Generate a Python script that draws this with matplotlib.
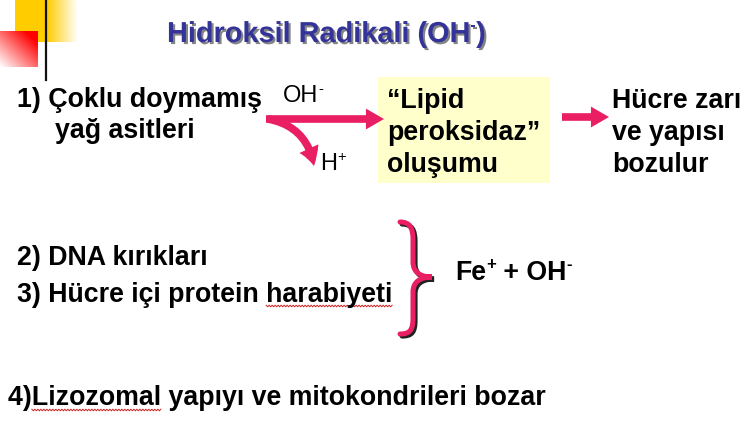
import numpy as np
import matplotlib
matplotlib.use('Agg')
import matplotlib.pyplot as plt
import matplotlib.patheffects as pe
from matplotlib.patches import FancyArrowPatch, Rectangle, PathPatch
from matplotlib.path import Path
from matplotlib import transforms

plt.rcParams['font.family'] = ['Liberation Sans', 'DejaVu Sans']

# slide text, pieces marked True are superscripts
title = [('Hidroksil Radikali (OH', False), ('-', True), (')', False)]
item1 = ['1) Çoklu doymamış', 'yağ asitleri']
reagent_in = [('OH', False), ('-', True)]
reagent_out = [('H', False), ('+', True)]
box_lines = ['“Lipid', 'peroksidaz”', 'oluşumu']
result_lines = ['Hücre zarı', 've yapısı', 'bozulur']
items23 = ['2) DNA kırıkları', '3) Hücre içi protein harabiyeti']
cause = [('Fe', False), ('+', True), (' + OH', False), ('-', True)]
item4 = '4)Lizozomal yapıyı ve mitokondrileri bozar'
misspelled = ['harabiyeti', 'Lizozomal']

PINK = '#E91E63'
NAVY = '#333399'
FS = 19.3

fig = plt.figure(figsize=(7.5, 4.46), dpi=100)
ax = fig.add_axes([0, 0, 1, 1])
ax.set_xlim(0, 750)
ax.set_ylim(446, 0)
ax.axis('off')
rend = fig.canvas.get_renderer()


def text_width(s, **kw):
    t = ax.text(0, 0, '|' + s + '|', **kw)
    w = t.get_window_extent(rend).width
    t.set_text('||')
    w -= t.get_window_extent(rend).width
    t.remove()
    return w


def rich_text(x, y, parts, size, **kw):
    # draw a line made of normal and superscript pieces
    for s, sup in parts:
        fs = size * 0.62 if sup else size
        yy = y - size * 100 / 72 * 0.40 if sup else y
        ax.text(x, yy, s, fontsize=fs, va='baseline', **kw)
        x += text_width(s, fontsize=fs, **kw)


# corner decoration
grad = np.linspace(0, 1, 64)[None, :]
ax.add_patch(Rectangle((15, 0), 31, 42, color='#FFCC00', lw=0))
yel = np.ones((1, 64, 4))
yel[..., 0], yel[..., 1], yel[..., 2] = 1.0, 0.8, 0.0
yel[..., 3] = 1 - grad
ax.imshow(yel, extent=(47, 78, 42, 0), aspect='auto', zorder=1)
gx, gy = np.meshgrid(np.linspace(0, 1, 64), np.linspace(0, 1, 64))
red = np.ones((64, 64, 4))
red[..., 1] = 0.0
red[..., 2] = 0.0
red[..., 3] = np.clip(0.6 * gx + 0.6 * (1 - gy), 0, 1)
ax.add_patch(Rectangle((0, 31), 38, 36, color='white', lw=0, zorder=1.5))
ax.imshow(red, extent=(0, 38, 67, 31), aspect='auto', zorder=2)
ax.plot([46, 46], [0, 80], color='#111111', lw=1.6, zorder=3)

# title with shadow
rich_text(167, 42, title, 20.8, fontweight='bold', color=NAVY,
          path_effects=[pe.withSimplePatchShadow(offset=(1.5, -1.5),
                                                 shadow_rgbFace='#777777', alpha=0.9)])

# row 1
ax.text(17, 107, item1[0], fontsize=FS, fontweight='bold', va='baseline')
ax.text(55, 138, item1[1], fontsize=FS, fontweight='bold', va='baseline')
rich_text(283, 102, reagent_in, 17)
rich_text(320, 170, reagent_out, 17)

ax.add_patch(Rectangle((378, 77), 172, 106, color='#FFFFCC', lw=0))
for i, s in enumerate(box_lines):
    ax.text(387, 108 + 32 * i, s, fontsize=FS, fontweight='bold', va='baseline')
for i, s in enumerate(result_lines):
    ax.text(612, 108 + 32 * i, s, fontsize=FS, fontweight='bold', va='baseline')

astyle = 'simple,head_length=13,head_width=15,tail_width=5.5'
ax.add_patch(FancyArrowPatch((266, 119), (384, 119), arrowstyle=astyle,
                             color=PINK, lw=0, shrinkA=0, shrinkB=0))
ax.add_patch(FancyArrowPatch((268, 119), (314, 166), arrowstyle=astyle,
                             connectionstyle='arc3,rad=-0.35',
                             color=PINK, lw=0, shrinkA=0, shrinkB=0))
ax.add_patch(FancyArrowPatch((562, 117), (609, 117), arrowstyle=astyle,
                             color=PINK, lw=0, shrinkA=0, shrinkB=0))

# rows 2 and 3
ax.text(17, 265, items23[0], fontsize=FS, fontweight='bold', va='baseline')
ax.text(17, 302, items23[1], fontsize=FS, fontweight='bold', va='baseline')

verts = [(400, 222), (410, 222), (413, 228), (413, 240),
         (413, 262),
         (413, 272), (420, 277), (432, 277),
         (420, 277), (413, 282), (413, 292),
         (413, 318),
         (413, 330), (410, 334), (400, 334)]
codes = [Path.MOVETO, Path.CURVE4, Path.CURVE4, Path.CURVE4,
         Path.LINETO,
         Path.CURVE4, Path.CURVE4, Path.CURVE4,
         Path.CURVE4, Path.CURVE4, Path.CURVE4,
         Path.LINETO,
         Path.CURVE4, Path.CURVE4, Path.CURVE4]
brace = Path(verts, codes)
ax.add_patch(PathPatch(brace, fill=False, ec='#222222', lw=3.6, capstyle='round',
                       transform=transforms.offset_copy(ax.transData, fig=fig,
                                                        x=1.5, y=-1.5, units='points')))
ax.add_patch(PathPatch(brace, fill=False, ec=PINK, lw=3.6, capstyle='round'))

rich_text(455, 280, cause, FS, fontweight='bold')

# row 4
ax.text(8, 405, item4, fontsize=FS, fontweight='bold', va='baseline')


# spell-check squiggles
def squiggle(x0, line, word, y):
    end = x0 + text_width(line[:line.index(word) + len(word)], fontsize=FS, fontweight='bold')
    start = end - text_width(word, fontsize=FS, fontweight='bold')
    xs = np.arange(start, end, 1.5)
    ys = y + np.where(np.arange(len(xs)) % 2 == 0, -0.8, 0.8)
    ax.plot(xs, ys, color='#D02020', lw=0.7)


squiggle(17, items23[1], misspelled[0], 306)
squiggle(8, item4, misspelled[1], 410)

fig.savefig('out.png', dpi=100)
